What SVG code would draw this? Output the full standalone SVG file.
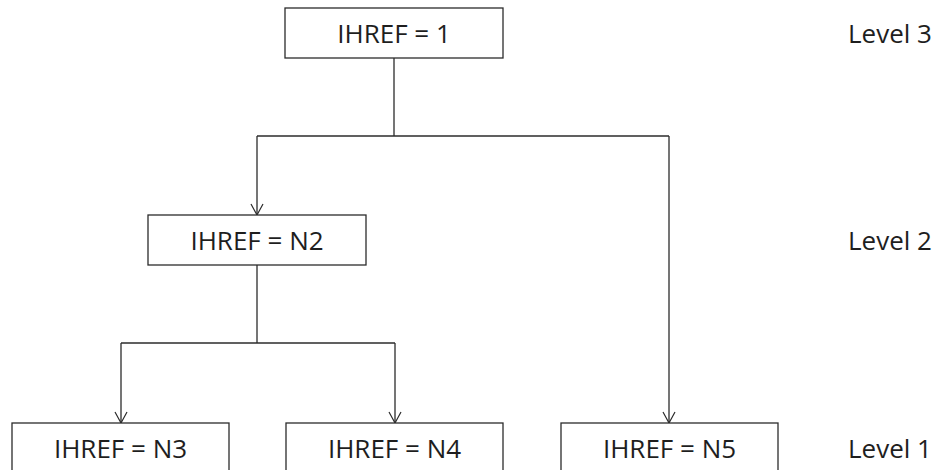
<svg xmlns="http://www.w3.org/2000/svg" width="940" height="470" viewBox="0 0 940 470">
<style>
.box{fill:#fff;stroke:#2b2b2b;stroke-width:1.3}
.t{font-family:"Open Sans","Liberation Sans",sans-serif;font-size:26px;fill:#1e1e1e}
.lbl{text-anchor:middle}
.c{fill:none;stroke:#2b2b2b;stroke-width:1.3}
</style>
<defs>
<marker id="arr" viewBox="0 0 14 14" refX="12" refY="7" markerWidth="14" markerHeight="14" markerUnits="userSpaceOnUse" orient="auto">
<path d="M1,1 L12,7 L1,13" fill="none" stroke="#2b2b2b" stroke-width="1.2"/>
</marker>
</defs>
<rect width="940" height="470" fill="#fff"/>
<g id="connectors">
<path class="c" d="M394,58 V136"/>
<path class="c" d="M257,136 H669"/>
<path class="c" d="M257,136 V215" marker-end="url(#arr)"/>
<path class="c" d="M669,136 V423" marker-end="url(#arr)"/>
<path class="c" d="M257,265 V343"/>
<path class="c" d="M121,343 H395"/>
<path class="c" d="M121,343 V423" marker-end="url(#arr)"/>
<path class="c" d="M395,343 V423" marker-end="url(#arr)"/>
</g>
<g id="n1"><rect class="box" x="285" y="8" width="218" height="50"/><text class="t lbl" x="394" y="43">IHREF = 1</text></g>
<g id="n2"><rect class="box" x="148" y="215" width="218" height="50"/><text class="t lbl" x="257" y="250">IHREF = N2</text></g>
<g id="n3"><rect class="box" x="12" y="423" width="217" height="52"/><text class="t lbl" x="120.5" y="458">IHREF = N3</text></g>
<g id="n4"><rect class="box" x="286" y="423" width="217" height="52"/><text class="t lbl" x="394.5" y="458">IHREF = N4</text></g>
<g id="n5"><rect class="box" x="561" y="423" width="217" height="52"/><text class="t lbl" x="669.5" y="458">IHREF = N5</text></g>
<g id="levels">
<text class="t" x="848" y="43">Level 3</text>
<text class="t" x="848" y="250">Level 2</text>
<text class="t" x="848" y="458">Level 1</text>
</g>
</svg>
